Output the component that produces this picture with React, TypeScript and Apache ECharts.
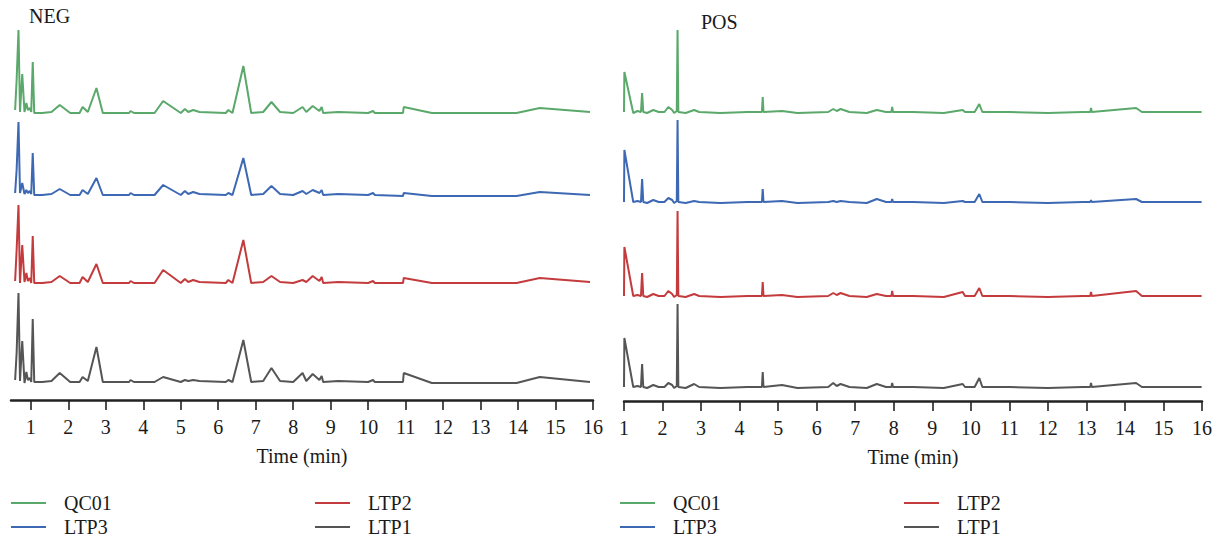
import React, { useEffect, useRef } from "react";
import * as echarts from "echarts";

// ---------------- DATA ----------------
const SAMPLES = ["QC01", "LTP3", "LTP2", "LTP1"];
const X_TICKS = [1, 2, 3, 4, 5, 6, 7, 8, 9, 10, 11, 12, 13, 14, 15, 16];

// NEG mode retention times (min)
const NEG_TIMES = [
  0.58, 0.62, 0.67, 0.71, 0.77, 0.83, 0.88, 0.92, 0.97, 1.01,
  1.05, 1.09, 1.3, 1.55, 1.77, 2.05, 2.3, 2.38, 2.52, 2.75,
  2.92, 3.3, 3.62, 3.66, 3.75, 4.3, 4.53, 5.0, 5.11, 5.2,
  5.33, 5.5, 6.2, 6.27, 6.38, 6.67, 6.88, 7.2, 7.42, 7.65,
  8.0, 8.25, 8.35, 8.52, 8.7, 8.76, 8.8, 9.2, 10.0, 10.13,
  10.18, 10.93, 10.95, 11.7, 12.0, 13.96, 14.58, 15.92,
];
const NEG_QC01 = [
  6, 36, 86, 4, 42, 4, 13, 6, 8, 4,
  54, 3, 3, 4, 11, 3, 3, 9, 4, 28,
  3, 3, 3, 5, 3, 3, 15, 3, 7, 4,
  6, 4, 3, 6, 3, 50, 3, 4, 14, 4,
  3, 9, 4, 10, 5, 9, 3, 4, 3, 5,
  3, 3, 9, 3, 3, 3, 8, 4,
];
const NEG_LTP3 = [
  5, 28, 76, 5, 15, 4, 8, 5, 7, 4,
  45, 3, 3, 4, 9, 3, 3, 8, 4, 20,
  3, 3, 3, 5, 3, 3, 13, 3, 7, 4,
  6, 4, 3, 5, 3, 40, 3, 4, 12, 4,
  3, 7, 4, 8, 5, 8, 3, 4, 3, 5,
  3, 2, 5, 2, 2, 2, 6, 3,
];
const NEG_LTP2 = [
  5, 36, 81, 3, 41, 4, 13, 5, 8, 3,
  50, 3, 3, 4, 10, 3, 3, 9, 4, 22,
  3, 3, 3, 5, 3, 3, 16, 3, 7, 4,
  6, 4, 3, 6, 3, 46, 3, 4, 10, 4,
  3, 6, 4, 10, 5, 9, 3, 4, 3, 5,
  3, 3, 8, 3, 3, 3, 8, 4,
];
const NEG_LTP1 = [
  5, 32, 92, 4, 44, 2, 13, 5, 7, 3,
  66, 3, 3, 4, 12, 3, 3, 8, 4, 38,
  3, 3, 3, 5, 3, 3, 8, 3, 5, 4,
  5, 4, 3, 5, 3, 45, 3, 4, 17, 4,
  3, 12, 4, 11, 5, 9, 3, 4, 3, 5,
  3, 3, 12, 2, 2, 2, 8, 3,
];

// POS mode retention times (min)
const POS_TIMES = [
  1.0, 1.01, 1.24, 1.35, 1.44, 1.47, 1.5, 1.6, 1.76, 1.9,
  2.05, 2.15, 2.25, 2.3, 2.37, 2.39, 2.41, 2.6, 2.82, 2.95,
  3.5, 4.2, 4.58, 4.6, 4.62, 5.1, 5.5, 6.3, 6.43, 6.52,
  6.62, 6.85, 7.3, 7.56, 7.8, 7.94, 7.96, 7.98, 8.5, 9.3,
  9.79, 9.85, 10.1, 10.22, 10.3, 11.0, 12.0, 12.9, 13.1, 13.12,
  13.14, 14.29, 14.44, 15.99,
];
const POS_QC01 = [
  3, 43, 2, 4, 3, 22, 3, 2, 5, 3,
  3, 8, 5, 2, 4, 85, 3, 2, 5, 3,
  2, 3, 3, 18, 3, 4, 2, 3, 6, 4,
  6, 3, 2, 5, 3, 3, 8, 3, 3, 2,
  5, 3, 3, 11, 3, 3, 2, 3, 3, 7,
  3, 7, 3, 3,
];
const POS_LTP3 = [
  3, 55, 3, 4, 3, 26, 3, 2, 5, 3,
  3, 7, 5, 2, 4, 85, 3, 2, 4, 3,
  2, 3, 3, 16, 3, 4, 2, 3, 4, 3,
  4, 3, 2, 6, 3, 3, 6, 3, 3, 2,
  4, 3, 3, 11, 3, 3, 2, 3, 3, 5,
  3, 6, 3, 3,
];
const POS_LTP2 = [
  3, 52, 3, 4, 3, 26, 3, 2, 5, 3,
  3, 8, 5, 2, 4, 88, 3, 2, 5, 3,
  2, 3, 3, 17, 3, 4, 2, 3, 6, 4,
  6, 3, 2, 5, 3, 3, 8, 3, 3, 2,
  7, 3, 3, 11, 3, 3, 2, 3, 3, 7,
  3, 8, 3, 3,
];
const POS_LTP1 = [
  3, 52, 3, 4, 3, 26, 3, 2, 5, 3,
  3, 7, 5, 2, 4, 86, 3, 2, 6, 3,
  2, 3, 3, 18, 3, 5, 2, 3, 7, 4,
  6, 3, 2, 6, 3, 3, 7, 3, 3, 2,
  6, 3, 3, 12, 3, 3, 2, 3, 3, 7,
  3, 7, 3, 3,
];

// ---------------- LAYOUT / STYLE ----------------
const COLORS = ["#5aa86a", "#3d68b3", "#c43b3d", "#555555"];
const FONT = "'Liberation Serif', 'Times New Roman', serif";
const TEXT = "#1a1a1a";

const PANELS = [
  {
    title: "NEG", titleLeft: 29, titleTop: 6,
    left: 11, width: 582, min: 0.47, max: 16,
    bottoms: [116, 198, 286, 385], axisY: 400,
    times: NEG_TIMES, values: [NEG_QC01, NEG_LTP3, NEG_LTP2, NEG_LTP1],
    legendA: 11, legendB: 315,
  },
  {
    title: "POS", titleLeft: 701, titleTop: 12,
    left: 624, width: 578, min: 1, max: 16,
    bottoms: [115, 205, 299, 390], axisY: 401,
    times: POS_TIMES, values: [POS_QC01, POS_LTP3, POS_LTP2, POS_LTP1],
    legendA: 620, legendB: 904,
  },
];

const BAND = 100;

function buildOption() {
  const grid: any[] = [];
  const xAxis: any[] = [];
  const yAxis: any[] = [];
  const series: any[] = [];
  const title: any[] = [];
  const legend: any[] = [];

  PANELS.forEach((p) => {
    title.push({
      text: p.title, left: p.titleLeft, top: p.titleTop, padding: 0,
      textStyle: { fontFamily: FONT, fontSize: 20, fontWeight: "normal", color: TEXT },
    });
    p.bottoms.forEach((b, k) => {
      const idx = grid.length;
      const isBottom = k === p.bottoms.length - 1;
      grid.push({ left: p.left, width: p.width, top: b - BAND, height: BAND, containLabel: false, outerBoundsMode: "none" });
      xAxis.push({
        type: "value", gridIndex: idx, min: p.min, max: p.max,
        show: isBottom, position: "bottom",
        offset: isBottom ? p.axisY - b : 0,
        splitLine: { show: false },
        axisLine: { show: true, onZero: false, lineStyle: { color: "#222", width: 2.5 } },
        axisTick: { show: true, inside: false, length: 10, customValues: X_TICKS, lineStyle: { color: "#222", width: 1.6 } },
        axisLabel: { show: true, customValues: X_TICKS, margin: 17, fontFamily: FONT, fontSize: 20, color: TEXT },
        name: "Time (min)", nameLocation: "middle", nameGap: 46,
        nameTextStyle: { fontFamily: FONT, fontSize: 20, color: TEXT },
      });
      yAxis.push({ type: "value", gridIndex: idx, min: 0, max: BAND, show: false, splitLine: { show: false } });
      series.push({
        type: "line", name: SAMPLES[k], xAxisIndex: idx, yAxisIndex: idx,
        showSymbol: false, symbol: "none", silent: true,
        lineStyle: { color: COLORS[k], width: 2 },
        itemStyle: { color: COLORS[k] },
        data: p.times.map((t, i) => [t, p.values[k][i]]),
      });
    });
    const legendBase = {
      orient: "vertical", top: 493, padding: 0, icon: "rect",
      itemWidth: 35, itemHeight: 2, itemGap: 4,
      textStyle: { fontFamily: FONT, fontSize: 20, color: TEXT, padding: [0, 0, 0, 13] },
      selectedMode: false,
    };
    legend.push({ ...legendBase, left: p.legendA, data: [SAMPLES[0], SAMPLES[1]] });
    legend.push({ ...legendBase, left: p.legendB, data: [SAMPLES[2], SAMPLES[3]] });
  });

  return { animation: false, backgroundColor: "#ffffff", title, legend, grid, xAxis, yAxis, series };
}

export default function App() {
  const ref = useRef<HTMLDivElement>(null);
  useEffect(() => {
    document.body.style.margin = "0";
    if (!ref.current) return;
    const chart = echarts.init(ref.current, undefined, { renderer: "svg" });
    chart.setOption(buildOption());
    return () => chart.dispose();
  }, []);
  return <div ref={ref} style={{ position: "fixed", left: 0, top: 0, width: 1222, height: 541 }} />;
}
